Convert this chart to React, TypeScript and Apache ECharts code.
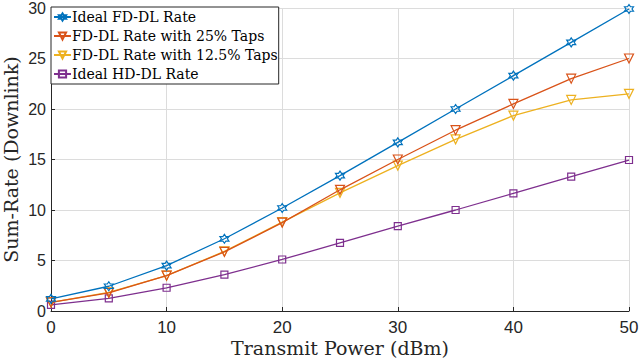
import React, { useEffect, useRef } from "react";
import * as echarts from "echarts";

const powers = [0, 5, 10, 15, 20, 25, 30, 35, 40, 45, 50];
const idealFD = [1.2, 2.45, 4.5, 7.15, 10.2, 13.4, 16.7, 20.0, 23.3, 26.6, 29.9];
const fd25 = [0.85, 1.8, 3.5, 5.85, 8.75, 12.0, 15.0, 17.9, 20.5, 23.0, 25.0];
const fd125 = [0.85, 1.85, 3.5, 5.9, 8.8, 11.7, 14.4, 17.0, 19.35, 20.9, 21.5];
const idealHD = [0.6, 1.25, 2.3, 3.6, 5.1, 6.75, 8.4, 10.0, 11.65, 13.3, 14.95];

const names = [
  "Ideal FD-DL Rate",
  "FD-DL Rate with 25% Taps",
  "FD-DL Rate with 12.5% Taps",
  "Ideal HD-DL Rate",
];
const colors = ["#0072BD", "#D95319", "#EDB120", "#7E2F8E"];

const hexagram =
  "path://M5,0 L6.44,2.5 L9.33,2.5 L7.89,5 L9.33,7.5 L6.44,7.5 L5,10 L3.56,7.5 L0.67,7.5 L2.11,5 L0.67,2.5 L3.56,2.5 Z";
const downTri = "path://M0,0 L10,0 L5,8.66 Z";
const symbols = [hexagram, downTri, downTri, "rect"];
const symbolSizes = [9, 9, 9, 7];

export default function App() {
  const ref = useRef<HTMLDivElement>(null);
  useEffect(() => {
    if (!ref.current) return;
    const chart = echarts.init(ref.current, undefined, { renderer: "svg" });
    const all = [idealFD, fd25, fd125, idealHD];
    chart.setOption({
      animation: false,
      backgroundColor: "#ffffff",
      grid: { left: 51, right: 11, top: 8, bottom: 52, containLabel: false, outerBoundsMode: "none" },
      legend: {
        left: 51,
        top: 7,
        orient: "vertical",
        itemGap: 2,
        itemWidth: 17,
        itemHeight: 9,
        padding: [1.5, 1, 1.5, 2],
        borderColor: "#262626",
        borderWidth: 1,
        backgroundColor: "#ffffff",
        borderRadius: 0,
        textStyle: { fontFamily: "DejaVu Serif", fontSize: 14, color: "#000", padding: [0, 0, 0, -4], lineHeight: 17 },
        data: names,
      },
      xAxis: {
        type: "value",
        min: 0,
        max: 50,
        interval: 10,
        name: "Transmit Power (dBm)",
        nameLocation: "middle",
        nameGap: 27,
        nameMoveOverlap: false,
        nameTextStyle: { fontFamily: "DejaVu Serif", fontSize: 19, color: "#262626" },
        axisLine: { show: true, lineStyle: { color: "#262626", width: 1 } },
        axisTick: { show: true, inside: true, length: 4, lineStyle: { color: "#262626" } },
        axisLabel: { fontFamily: "Liberation Sans", fontSize: 17, color: "#262626", margin: 8 },
        splitLine: { show: true, lineStyle: { color: "#dcdcdc", width: 1 } },
      },
      yAxis: {
        type: "value",
        min: 0,
        max: 30,
        interval: 5,
        name: "Sum-Rate (Downlink)",
        nameLocation: "middle",
        nameGap: 30,
        nameMoveOverlap: false,
        nameTextStyle: { fontFamily: "DejaVu Serif", fontSize: 19, color: "#262626", lineHeight: 20 },
        axisLine: { show: true, lineStyle: { color: "#262626", width: 1 } },
        axisTick: { show: true, inside: true, length: 4, lineStyle: { color: "#262626" } },
        axisLabel: { fontFamily: "Liberation Sans", fontSize: 16, color: "#262626", margin: 5, lineHeight: 14 },
        splitLine: { show: true, lineStyle: { color: "#dcdcdc", width: 1 } },
      },
      series: names.map((n, i) => ({
        name: n,
        type: "line",
        data: powers.map((p, j) => [p, all[i][j]]),
        symbol: symbols[i],
        symbolSize: symbolSizes[i],
        showAllSymbol: true,
        lineStyle: { color: colors[i], width: 1.3 },
        itemStyle: { color: "rgba(255,255,255,0)", borderColor: colors[i], borderWidth: 1.2 },
        z: 10 - i,
      })),
    });
    return () => chart.dispose();
  }, []);
  return (
    <div
      ref={ref}
      style={{ position: "fixed", left: 0, top: 0, width: 640, height: 363 }}
    />
  );
}
